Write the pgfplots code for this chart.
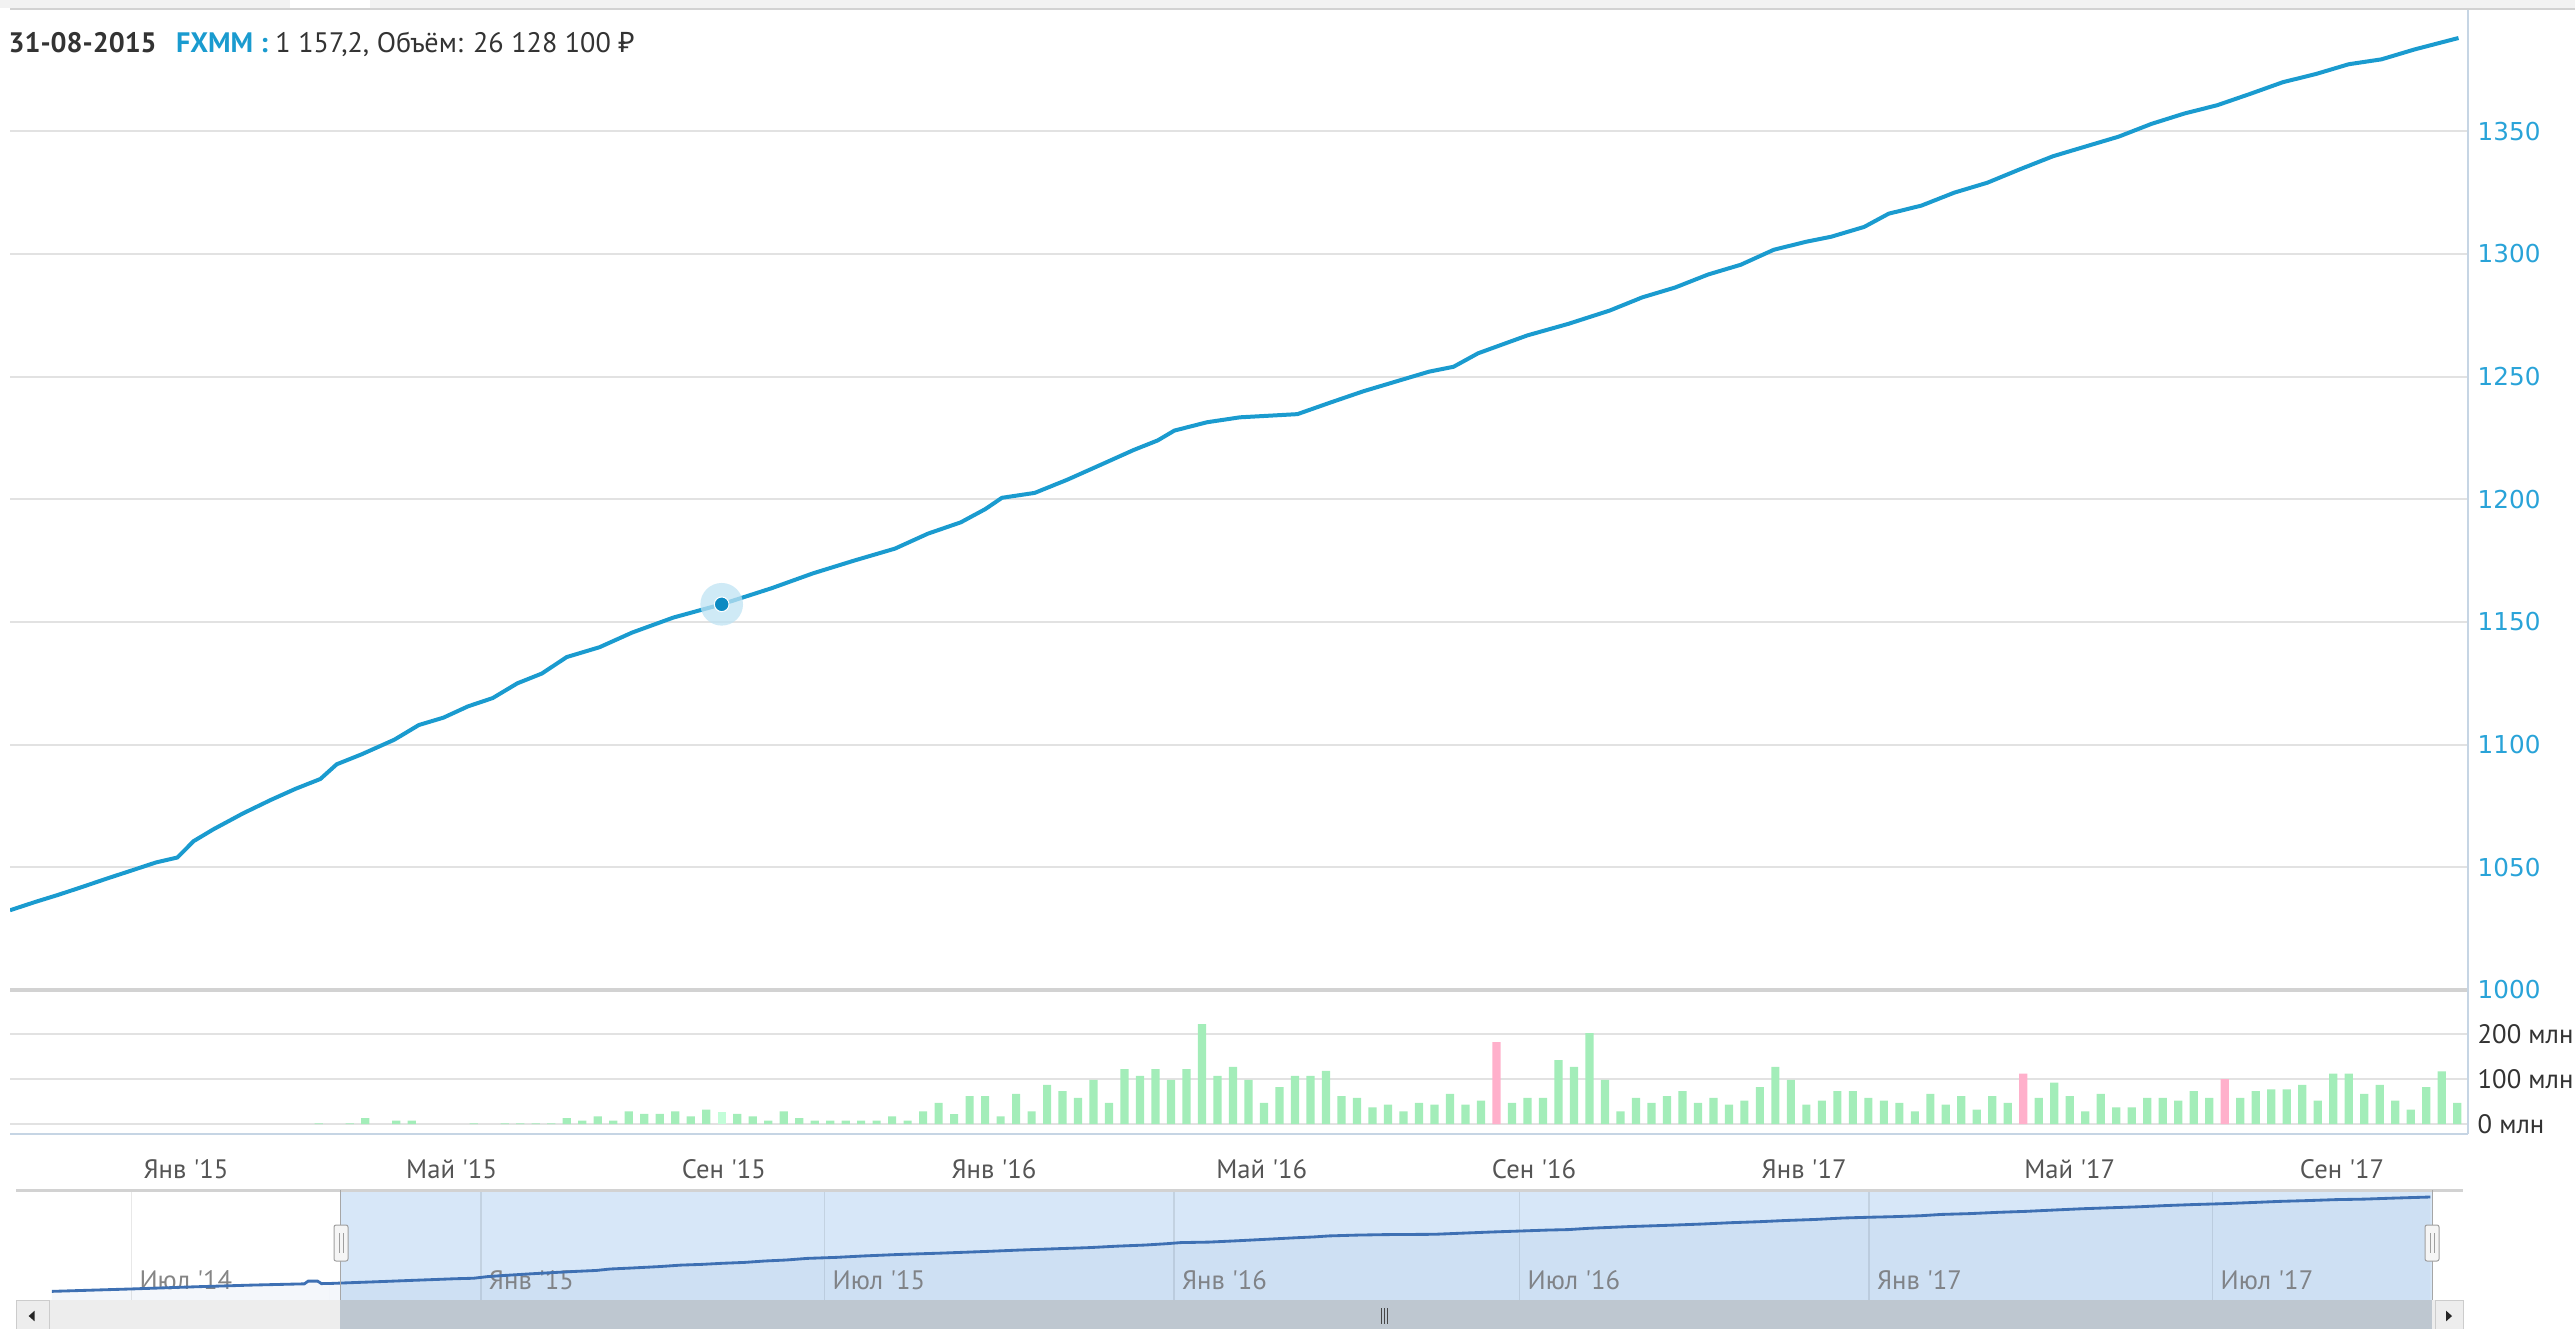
\documentclass[border=0pt]{standalone}
\usepackage{pgfplots}
\pgfplotsset{compat=1.18}
\usepackage{fontspec}
\setmainfont{PT Sans}
\newfontfamily\lab{PT Sans}
\newfontfamily\dejavu{DejaVu Sans}
\newfontfamily\notosans{Noto Sans}
\definecolor{lineblue}{HTML}{1A9BCF}
\definecolor{tickblue}{HTML}{29A3D8}
\definecolor{gridgray}{HTML}{E2E2E2}
\definecolor{sepgray}{HTML}{D2D2D2}
\definecolor{axisblue}{HTML}{C6D5E4}
\definecolor{bargreen}{HTML}{A3EDB9}
\definecolor{barpink}{HTML}{FFB0CB}
\definecolor{barhover}{HTML}{C2FDD8}
\definecolor{navline}{HTML}{3E70B3}
\definecolor{navmask}{HTML}{D7E7F8}
\definecolor{labelgray}{HTML}{555555}
\definecolor{navlabel}{HTML}{858585}
\definecolor{darktext}{HTML}{333333}
\definecolor{thumb}{HTML}{BEC7D0}
\definecolor{dotblue}{HTML}{0C8AC2}
\definecolor{halo}{HTML}{BFE3F3}

\pgfplotstableread{
day price
-79.5 1032.5
-67.7 1036.0
-58.0 1038.7
-46.9 1042.0
-35.8 1045.4
-24.6 1048.7
-13.5 1052.0
-3.9 1054.0
3.5 1060.7
12.4 1065.5
25.8 1072.0
38.4 1077.5
49.5 1082.0
60.7 1086.0
68.1 1092.0
79.2 1096.0
94.1 1102.0
105.2 1108.0
116.3 1111.0
127.4 1115.6
138.6 1119.0
149.7 1125.0
160.8 1129.0
172.0 1135.7
186.8 1139.7
201.6 1145.7
220.2 1151.8
242.0 1157.2
264.7 1163.8
283.2 1169.8
301.8 1175.0
320.3 1179.9
335.2 1186.0
350.0 1190.6
361.1 1196.0
368.6 1200.6
383.4 1202.6
398.2 1208.0
413.1 1214.0
427.9 1220.0
439.0 1224.0
446.5 1228.0
461.3 1231.4
476.1 1233.4
502.1 1234.7
516.9 1239.4
531.8 1244.0
546.6 1248.0
561.5 1252.0
572.6 1254.0
583.7 1259.5
606.0 1266.8
624.5 1271.5
643.1 1276.9
657.9 1282.3
672.7 1286.3
687.6 1291.6
702.4 1295.6
717.3 1301.7
732.1 1305.0
743.2 1307.0
758.1 1311.0
769.2 1316.4
784.0 1319.7
798.9 1325.0
813.7 1329.0
828.5 1334.5
843.4 1339.8
858.2 1343.8
873.1 1347.8
887.9 1353.0
902.7 1357.2
917.6 1360.6
932.4 1365.2
947.3 1370.0
962.1 1373.3
977.0 1377.3
991.8 1379.3
1006.6 1383.3
1026.6 1388.0
}\pricedata

\pgfplotstableread{
day price
-226 1000
-184 1010
-150 1019
-120 1026
-93 1031
-91 1042
-86 1042
-84 1032
-79.5 1032.5
}\prehist

\pgfplotstableread{
day vol
60 1.5
74 1.5
81 13
95 7.5
102 7.5
130 1.5
144 1.5
151 1.5
158 1.5
165 1.5
172 13
179 7.5
186 17
193 7.5
200 28
207 22.5
214 22.5
221 28
228 17
235 32
249 22.5
256 17
263 7.5
270 28
277 13
284 7.5
291 7.5
298 7.5
305 7.5
312 7.5
319 17
326 7.5
333 28
340 47
347 22
354 62
361 62
368 17
375 67
382 28
389 87
396 73
403 58
410 98
417 47
424 122
431 107
438 122
445 98
452 122
459 222
466 107
473 127
480 98
487 47
494 82
501 107
508 107
515 118
522 62
529 58
536 37
543 43
550 28
557 47
564 43
571 67
578 43
585 52
599 47
606 58
613 58
620 142
627 127
634 202
641 98
648 28
655 58
662 47
669 62
676 73
683 47
690 58
697 43
704 52
711 82
718 127
725 98
732 43
739 52
746 73
753 73
760 58
767 52
774 47
781 28
788 67
795 43
802 62
809 32
816 62
823 47
837 58
844 92
851 62
858 28
865 67
872 37
879 37
886 58
893 58
900 52
907 73
914 58
928 58
935 73
942 77
949 77
956 87
963 52
970 112
977 112
984 67
991 87
998 52
1005 32
1012 82
1019 117
1026 47
}\voldata

\begin{document}
\begin{tikzpicture}
\path[use as bounding box] (0,0) rectangle (772.5pt,-398.4pt);
% top strip
\fill[black!5] (0,0) rectangle (772.5pt,-2.4pt);
\fill[white] (87pt,0) rectangle (111pt,-2.4pt);
\draw[sepgray, line width=0.6pt] (3pt,-2.7pt) -- (772.5pt,-2.7pt);

% ---------------- price panel
\begin{axis}[at={(3pt,-297pt)}, anchor=south west, scale only axis,
  width=737.4pt, height=293.4pt,
  xmin=-79.5, xmax=1030.9, ymin=1000, ymax=1398.6,
  axis line style={draw=none}, xtick=\empty,
  ytick={1000,1050,1100,1150,1200,1250,1300,1350},
  yticklabels={1000,1050,1100,1150,1200,1250,1300,1350},
  yticklabel pos=right, major tick length=0pt,
  ymajorgrids, grid style={gridgray, line width=0.6pt},
  yticklabel style={font=\dejavu\fontsize{7.4}{8}\selectfont, text=tickblue, anchor=west, inner sep=0pt, xshift=2.7pt}]
\addplot[lineblue, line width=1.2pt] table[x=day, y=price] {\pricedata};
\addplot[only marks, mark=*, mark size=6.4pt, mark options={fill=halo, draw=halo, fill opacity=0.75, draw opacity=0}] coordinates {(242,1157.2)};
\addplot[only marks, mark=*, mark size=2.2pt, mark options={fill=dotblue, draw=white, line width=0.3pt}] coordinates {(242,1157.2)};
\end{axis}

% ---------------- volume panel
\begin{axis}[at={(3pt,-340.2pt)}, anchor=south west, scale only axis,
  width=737.4pt, height=43.2pt,
  xmin=-79.5, xmax=1030.9, ymin=-22.2, ymax=297.8,
  axis line style={draw=none},
  ytick={0,100,200}, yticklabels={0 млн,100 млн,200 млн},
  yticklabel pos=right, major tick length=0pt,
  ymajorgrids, grid style={gridgray, line width=0.7pt},
  xtick={0,120,243,365,486,609,731,851,974},
  xticklabels={Янв '15,Май '15,Сен '15,Янв '16,Май '16,Сен '16,Янв '17,Май '17,Сен '17},
  xticklabel style={font=\lab\fontsize{8}{9}\selectfont, text=labelgray, anchor=north, inner sep=0pt, yshift=-7.3pt},
  yticklabel style={font=\lab\fontsize{8}{9}\selectfont, text=darktext, anchor=west, inner sep=0pt, xshift=2.7pt}]
\addplot[ybar, bar shift=0pt, bar width=3.7, fill=bargreen, draw=none] table[x=day, y=vol] {\voldata};
\addplot[ybar, bar shift=0pt, bar width=3.7, fill=barpink, draw=none] coordinates {(592,182) (830,112) (921,100)};
\addplot[ybar, bar shift=0pt, bar width=3.7, fill=barhover, draw=none] coordinates {(242,26.1)};
\pgfplotsinvokeforeach{0,120,243,365,486,609,731,851,974}{
  \draw[axisblue, line width=0.45pt] (axis cs:#1,-22.2) -- ++(0pt,-6.3pt);
}
\end{axis}

% separators and frame lines
\draw[sepgray, line width=1.1pt] (3pt,-297pt) -- (740.4pt,-297pt);
\draw[axisblue, line width=0.6pt] (740.4pt,-3pt) -- (740.4pt,-340.2pt);
\draw[axisblue, line width=0.8pt] (3pt,-340.2pt) -- (740.4pt,-340.2pt);

% ---------------- navigator
\fill[navmask] (102pt,-357pt) rectangle (729.6pt,-390pt);
\begin{axis}[at={(5.4pt,-390pt)}, anchor=south west, scale only axis,
  width=724.2pt, height=33pt,
  xmin=-243.8, xmax=1027.5, ymin=964.5, ymax=1416.8,
  axis line style={draw=none}, ytick=\empty, major tick length=0pt,
  xtick={-184,0,181,365,547,731,912},
  xticklabels={Июл '14,Янв '15,Июл '15,Янв '16,Июл '16,Янв '17,Июл '17},
  xmajorgrids, grid style={black, opacity=0.09, line width=0.4pt},
  xticklabel style={font=\lab\fontsize{8}{9}\selectfont, text=navlabel, anchor=west, inner sep=0pt, xshift=2.2pt, yshift=6pt}]
\addplot[draw=none, fill=navline, fill opacity=0.06] table[x=day, y=price] {\prehist} \closedcycle;
\addplot[draw=none, fill=navline, fill opacity=0.06] table[x=day, y=price] {\pricedata} \closedcycle;
\addplot[navline, line width=0.85pt] table[x=day, y=price] {\prehist};
\addplot[navline, line width=0.85pt] table[x=day, y=price] {\pricedata};
\end{axis}
\draw[sepgray, line width=0.9pt] (4.8pt,-357pt) -- (738.9pt,-357pt);
\draw[gray!70, line width=0.3pt] (102pt,-357pt) -- (102pt,-390pt);
\draw[gray!70, line width=0.3pt] (729.6pt,-357pt) -- (729.6pt,-390pt);
% handles
\foreach \hx in {102.3, 729.6}{
  \draw[fill=black!4, draw=gray!75, rounded corners=0.6pt, line width=0.3pt] (\hx pt-2.1pt,-367.5pt) rectangle (\hx pt+2.1pt,-378.3pt);
  \draw[gray!75, line width=0.25pt] (\hx pt-0.6pt,-370pt) -- (\hx pt-0.6pt,-375.8pt);
  \draw[gray!75, line width=0.25pt] (\hx pt+0.6pt,-370pt) -- (\hx pt+0.6pt,-375.8pt);
}
% scrollbar
\fill[black!7] (4.8pt,-390pt) rectangle (738.9pt,-400pt);
\fill[thumb] (102pt,-390pt) rectangle (729.6pt,-400pt);
\draw[fill=black!7, draw=gray!40, line width=0.3pt] (4.8pt,-390pt) rectangle (14.7pt,-400pt);
\fill[gray!30!black] (8.6pt,-394.8pt) -- (10.4pt,-393.2pt) -- (10.4pt,-396.4pt) -- cycle;
\draw[fill=black!7, draw=gray!40, line width=0.3pt] (730.5pt,-390pt) rectangle (738.9pt,-400pt);
\fill[gray!30!black] (735.6pt,-394.8pt) -- (733.8pt,-393.2pt) -- (733.8pt,-396.4pt) -- cycle;
\foreach \gx in {414.3,415.2,416.1}{
  \draw[gray!55!black, line width=0.25pt] (\gx pt,-392.4pt) -- (\gx pt,-397.2pt);
}

% title
\node[anchor=west, inner sep=0pt, font=\lab\fontsize{8.45}{10}\selectfont, text=darktext] at (2.4pt,-13.3pt)
  {\textbf{31-08-2015}\hspace{5.8pt}{\color{lineblue}\textbf{FXMM :}} 1 157,2, Объём: 26 128 100 {\notosans ₽}};
\end{tikzpicture}
\end{document}
